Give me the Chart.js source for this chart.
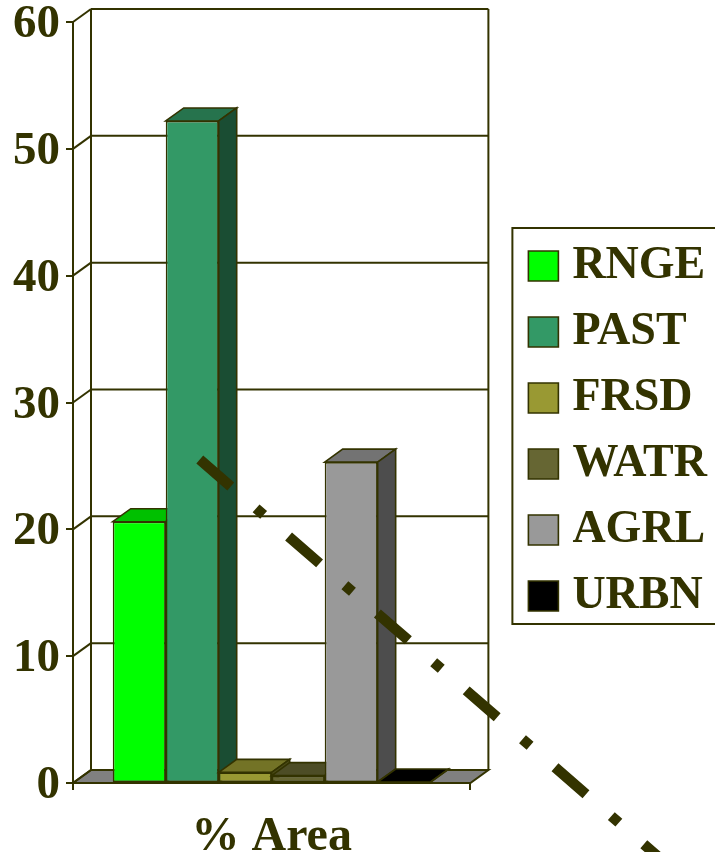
<!DOCTYPE html>
<html>
<head>
<meta charset="utf-8">
<script src="https://cdn.jsdelivr.net/npm/chart.js@4/dist/chart.umd.min.js"></script>
<style>
  html, body { margin: 0; padding: 0; background: #ffffff; overflow: hidden; }
  #wrap { width: 715px; height: 852px; overflow: hidden; position: relative; }
  canvas { display: block; }
</style>
</head>
<body>
<div id="wrap"><canvas id="chart" width="717" height="852"></canvas></div>
<script>
// ---- data ----
const categories = ['% Area'];
const seriesNames = ['RNGE', 'PAST', 'FRSD', 'WATR', 'AGRL', 'URBN'];
const seriesValues = [20.6, 52.2, 0.84, 0.58, 25.3, 0.08];
const yTicks = [0, 10, 20, 30, 40, 50, 60];
// straight dash-dot guide line (x as a fraction of the category axis span, y in % units)
const guideX = [0.319, 1.73];
const guideY = [25.5, -12.8];

// ---- styling ----
const INK = '#333300';
const frontColors = ['#00FF00', '#339966', '#999933', '#666633', '#999999', '#000000'];
const topColors   = ['#00C000', '#26734D', '#737326', '#4D4D26', '#737373', '#000000'];
const sideColors  = ['#008000', '#1A4D33', '#4D4D1A', '#33331A', '#4D4D4D', '#000000'];
const DX = 18, DY = 13;   // oblique depth of the 3-D box
const RULE = 2;           // wall / axis line width

Chart.defaults.font.family = "'Liberation Serif', 'Times New Roman', serif";
Chart.defaults.font.weight = 'bold';
Chart.defaults.color = INK;

function poly(ctx, pts, fill) {
  ctx.beginPath();
  ctx.moveTo(pts[0][0], pts[0][1]);
  for (let i = 1; i < pts.length; i++) ctx.lineTo(pts[i][0], pts[i][1]);
  ctx.closePath();
  if (fill) { ctx.fillStyle = fill; ctx.fill(); }
  ctx.stroke();
}
function seg(ctx, x1, y1, x2, y2) {
  ctx.beginPath(); ctx.moveTo(x1, y1); ctx.lineTo(x2, y2); ctx.stroke();
}

// Draws walls, floor and extruded bars (replacing the flat bars),
// then the dash-dot guide and the legend frame.
const box3d = {
  id: 'box3d',
  beforeDatasetsDraw(chart) {
    const { ctx, chartArea: a, scales } = chart;
    const ys = scales.y;
    ctx.save();
    ctx.strokeStyle = INK;
    ctx.lineWidth = RULE;
    ctx.lineJoin = 'miter';

    // floor
    poly(ctx, [[a.left, a.bottom], [a.right, a.bottom], [a.right + DX, a.bottom - DY], [a.left + DX, a.bottom - DY]], '#808080');

    // side wall diagonals and back-wall grid
    yTicks.forEach(v => {
      const py = ys.getPixelForValue(v);
      seg(ctx, a.left, py, a.left + DX, py - DY);
      if (v > 0) seg(ctx, a.left + DX, py - DY, a.right + DX, py - DY);
    });
    seg(ctx, a.left + DX, a.top - DY, a.left + DX, a.bottom - DY);
    seg(ctx, a.right + DX, a.top - DY, a.right + DX, a.bottom - DY);

    // bars, left to right so each front face hides its neighbour's side
    chart.data.datasets.forEach((ds, i) => {
      const meta = chart.getDatasetMeta(i);
      if (meta.type !== 'bar') return;
      const bar = meta.data[0];
      const l = bar.x - bar.width / 2, r = bar.x + bar.width / 2;
      const t = Math.min(bar.y, bar.base), b = Math.max(bar.y, bar.base);
      bar.draw(ctx);
      ctx.strokeStyle = INK;
      ctx.lineWidth = 1.6;
      poly(ctx, [[l, t], [l + DX, t - DY], [r + DX, t - DY], [r, t]], topColors[i]);
      poly(ctx, [[r, t], [r + DX, t - DY], [r + DX, b - DY], [r, b]], sideColors[i]);
    });
    ctx.restore();
  },
  beforeDatasetDraw(chart, args) {
    if (args.meta.type === 'bar') return false;
  },
  afterDatasetsDraw(chart) {
    const { ctx, scales } = chart;
    const xs = scales.x, ys = scales.y;
    ctx.save();
    ctx.strokeStyle = INK;
    ctx.lineWidth = 10.5;
    ctx.lineCap = 'butt';
    ctx.setLineDash([41, 33.5, 10, 33]);
    ctx.beginPath();
    guideX.forEach((v, i) => {
      const px = xs.getPixelForDecimal(v), py = ys.getPixelForValue(guideY[i]);
      if (i === 0) ctx.moveTo(px, py); else ctx.lineTo(px, py);
    });
    ctx.stroke();
    ctx.restore();
  },
  afterDraw(chart) {
    const lg = chart.legend;
    if (!lg || !lg.legendHitBoxes || !lg.legendHitBoxes.length) return;
    const hb = lg.legendHitBoxes;
    const last = hb[hb.length - 1];
    const x0 = hb[0].left - 25;
    const y0 = hb[0].top - 15;
    const y1 = last.top + last.height + 5;
    const ctx = chart.ctx;
    ctx.save();
    ctx.strokeStyle = INK;
    ctx.lineWidth = RULE;
    ctx.strokeRect(x0, y0, chart.width + 20 - x0, y1 - y0);
    ctx.restore();
  }
};

const barSets = seriesNames.map((name, i) => ({
  label: name,
  data: [seriesValues[i]],
  backgroundColor: frontColors[i],
  borderColor: INK,
  borderWidth: 1.6,
  borderSkipped: false,
  categoryPercentage: 0.8,
  barPercentage: 1.0
}));

new Chart(document.getElementById('chart'), {
  type: 'bar',
  data: { labels: categories, datasets: barSets },
  plugins: [box3d],
  options: {
    responsive: false,
    animation: false,
    events: [],
    layout: { padding: { top: 10, bottom: 0, left: 0, right: 0 }, autoPadding: false },
    scales: {
      x: {
        type: 'category',
        grid: { display: true, drawOnChartArea: false, drawTicks: true, tickLength: 7, color: INK, lineWidth: RULE },
        border: { display: true, color: INK, width: RULE },
        ticks: { font: { size: 48, weight: 'bold' }, color: INK, padding: 19 },
        afterFit(s) { s.height = 69; s.paddingLeft = 0; s.paddingRight = 0; }
      },
      xTop: {
        type: 'linear',
        position: 'top',
        display: true,
        grid: { display: false },
        border: { display: false },
        ticks: { display: false },
        afterFit(s) { s.height = 12; s.paddingLeft = 0; s.paddingRight = 0; }
      },
      y: {
        type: 'linear',
        min: yTicks[0],
        max: yTicks[yTicks.length - 1],
        grid: { display: true, drawOnChartArea: false, drawTicks: true, tickLength: 7, color: INK, lineWidth: RULE },
        border: { display: true, color: INK, width: RULE },
        ticks: { stepSize: 10, font: { size: 47, weight: 'bold' }, color: INK, padding: 6, labelOffset: 3 },
        afterFit(s) { s.width = 73; s.paddingTop = 0; s.paddingBottom = 0; }
      },
      yR: {
        type: 'linear',
        position: 'right',
        display: true,
        grid: { display: false },
        border: { display: false },
        ticks: { display: false },
        afterFit(s) { s.width = 47; s.paddingTop = 0; s.paddingBottom = 0; }
      }
    },
    plugins: {
      tooltip: { enabled: false },
      legend: {
        position: 'right',
        maxWidth: 400,
        labels: {
          usePointStyle: true,
          pointStyle: 'rect',
          boxWidth: 12,
          boxHeight: 30,
          padding: 20,
          color: INK,
          font: { size: 46, weight: 'bold' }
        }
      }
    }
  }
});
</script>
</body>
</html>
